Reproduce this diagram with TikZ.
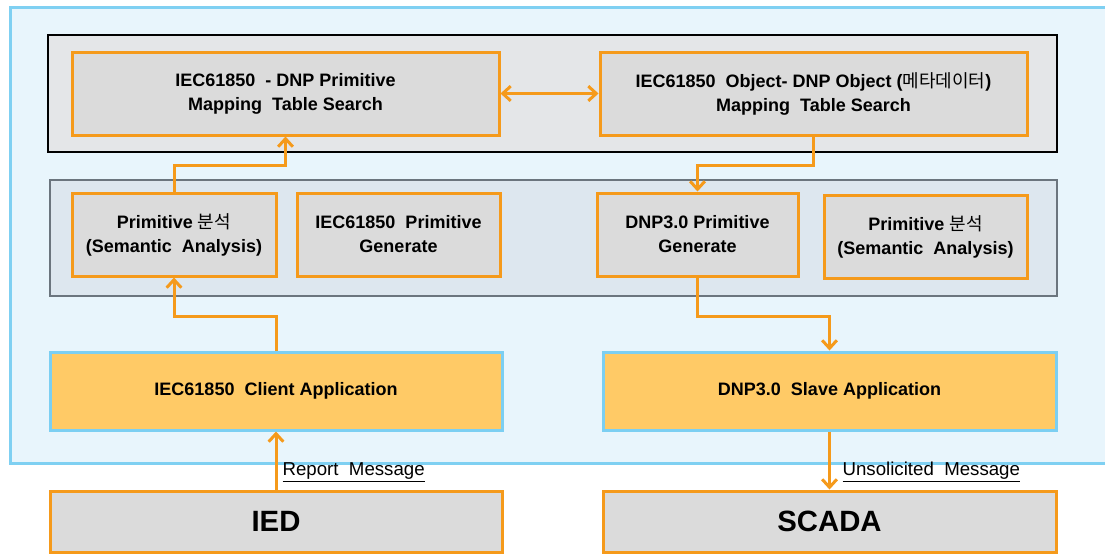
\documentclass[tikz,border=0pt]{standalone}
\usepackage{fontspec}
\setmainfont{Liberation Sans}
\newfontfamily\kr{Noto Sans CJK KR}
\usetikzlibrary{arrows.meta}
\definecolor{orng}{HTML}{F59A1B}
\definecolor{boxgray}{HTML}{DBDBDB}
\definecolor{appfill}{HTML}{FFCA66}
\definecolor{appblue}{HTML}{7CCFF2}
\definecolor{outerfill}{HTML}{E8F5FC}
\definecolor{outerline}{HTML}{7FD0F2}
\definecolor{topfill}{HTML}{E4E6E8}
\definecolor{midfill}{HTML}{DDE7EF}
\definecolor{midline}{HTML}{6B757E}
\begin{document}
\begin{tikzpicture}[x=0.75pt,y=-0.75pt,
  obox/.style={draw=orng, fill=boxgray, line width=2.25pt, inner sep=0pt, align=center,
    minimum height=62.25pt, font=\fontsize{13.5}{18}\selectfont\bfseries, text=black},
  abox/.style={draw=appblue, fill=appfill, line width=2.25pt, inner sep=0pt, align=center,
    minimum height=58.5pt, font=\fontsize{13.5}{18}\selectfont\bfseries, text=black},
  bigbox/.style={draw=orng, fill=boxgray, line width=2.25pt, inner sep=0pt, align=center,
    minimum height=45.75pt, font=\fontsize{22}{26}\selectfont\bfseries, text=black},
  arr/.style={draw=orng, line width=2.25pt, -{Straight Barb[length=6pt,width=11pt]}},
  darr/.style={draw=orng, line width=2.25pt, {Straight Barb[length=6pt,width=11pt]}-{Straight Barb[length=6pt,width=11pt]}},
  msg/.style={font=\fontsize{14}{16}\selectfont, text=black, inner sep=1pt, anchor=west}
]
\useasboundingbox (0,0) rectangle (1105,554);
\fill[white] (0,0) rectangle (1105,554);
\begin{scope}
\clip (0,0) rectangle (1105,554);
\draw[draw=outerline, fill=outerfill, line width=2.25pt] (10,7) rectangle (1125,463);
\end{scope}
\draw[fill=topfill, draw=black, line width=1.5pt] (48,35) rectangle (1057,152);
\draw[fill=midfill, draw=midline, line width=1.5pt] (50,180) rectangle (1057,296);

\node[obox, minimum width=320.25pt] (A) at (285.5,93.5) {IEC61850 ~- DNP Primitive\\Mapping ~Table Search};
\node[obox, minimum width=320.25pt] (B) at (813.5,93.5) {IEC61850 ~Object- DNP Object ({\kr\mdseries 메타데이터})\\Mapping ~Table Search};
\node[obox, minimum width=153pt] (C) at (174,234.5) {Primitive {\kr\mdseries 분석}\\(Semantic ~Analysis)};
\node[obox, minimum width=152.25pt] (D) at (398.5,234.5) {IEC61850 ~Primitive\\Generate};
\node[obox, minimum width=150.75pt] (E) at (697.5,234.5) {DNP3.0 Primitive\\Generate};
\node[obox, minimum width=152.25pt] (F) at (925.5,236.5) {Primitive {\kr\mdseries 분석}\\(Semantic ~Analysis)};
\node[abox, minimum width=339pt] (G) at (276,391) {IEC61850 ~Client Application};
\node[abox, minimum width=339.75pt] (H) at (829.5,391) {DNP3.0 ~Slave Application};
\node[bigbox, minimum width=339pt] (IED) at (276,521.5) {IED};
\node[bigbox, minimum width=339.75pt] (SCADA) at (829.5,521.5) {SCADA};

\coordinate (j1) at (230,165);
\coordinate (j2) at (750,165);
\coordinate (j3) at (230,316);
\coordinate (j4) at (760,316);

\draw[darr] (A.east) -- (B.west);
\draw[arr] (C.north) |- (j1) -| (A.south);
\draw[arr] (B.south) |- (j2) -| (E.north);
\draw[arr] (G.north) |- (j3) -| (C.south);
\draw[arr] (E.south) |- (j4) -| (H.north);
\draw[arr] (IED.north) -- (G.south);
\draw[arr] (H.south) -- (SCADA.north);

\node[msg] (rm) at (281,472) {\underline{Report ~Message}};
\node[msg] (um) at (841,472) {\underline{Unsolicited ~Message}};
\end{tikzpicture}
\end{document}
